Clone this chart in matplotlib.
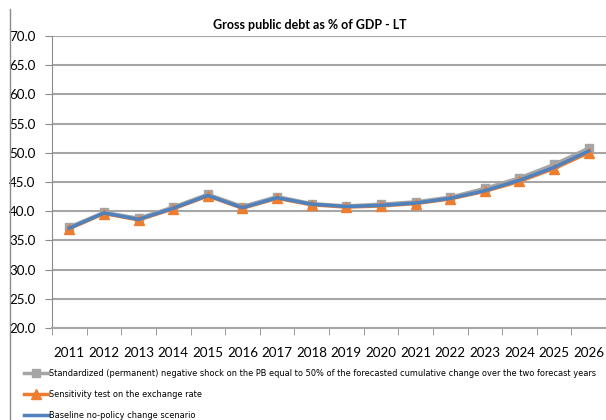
import matplotlib.pyplot as plt
from matplotlib.lines import Line2D
import numpy as np

# data
years = [str(y) for y in range(2011, 2027)]
baseline = [37.1, 39.7, 38.6, 40.5, 42.7, 40.6, 42.3, 41.2, 40.8, 41.0, 41.4, 42.2, 43.5, 45.3, 47.5, 50.3]
exch_rate = [37.0, 39.6, 38.5, 40.4, 42.6, 40.5, 42.2, 41.1, 40.7, 40.9, 41.3, 42.1, 43.4, 45.1, 47.3, 50.0]
pb_shock = [37.3, 39.8, 38.8, 40.7, 42.9, 40.8, 42.5, 41.3, 40.9, 41.2, 41.6, 42.4, 43.9, 45.7, 48.0, 50.8]
labels = ['Standardized (permanent) negative shock on the PB equal to 50% of the forecasted cumulative change over the two forecast years',
          'Sensitivity test on the exchange rate',
          'Baseline no-policy change scenario']

W, H = 606, 420
fig = plt.figure(figsize=(W / 100, H / 100), dpi=100)
ax = fig.add_axes([52 / W, 1 - 328 / H, (606 - 52) / W, (328 - 36) / H])

x = np.arange(len(years))
l1, = ax.plot(x, pb_shock, color='#A5A5A5', lw=2.5, marker='s', ms=6, zorder=3)
l2, = ax.plot(x, exch_rate, color='#ED7D31', lw=2.5, marker='^', ms=7, zorder=4)
l3, = ax.plot(x, baseline, color='#4F81BD', lw=2.5, zorder=5)

ax.set_ylim(20, 70)
ax.set_yticks(np.arange(20, 70.1, 5))
ax.set_yticklabels([f'{v:.1f}' for v in np.arange(20, 70.1, 5)])
ax.set_xlim(-0.5, 15.42)
ax.set_xticks(x)
ax.set_xticklabels(years)
ax.set_xticks(np.arange(-0.5, 15.6, 1), minor=True)
ax.tick_params(axis='x', which='major', length=0, pad=14)
ax.tick_params(axis='x', which='minor', length=5, color='#8C8C8C', direction='out')
ax.tick_params(axis='y', length=5, color='#8C8C8C', pad=7)
for lab in ax.get_xticklabels() + ax.get_yticklabels():
    lab.set_family(['Lato', 'DejaVu Sans'])
    lab.set_fontsize(9.6)
ax.grid(axis='y', color='#A6A6A6', lw=1.5)
ax.set_axisbelow(True)
for s in ['top', 'right']:
    ax.spines[s].set_visible(False)
ax.spines['left'].set_color('#8C8C8C')
ax.spines['bottom'].set_color('#A6A6A6')
ax.spines['bottom'].set_linewidth(1.5)

fig.text(310 / W, 1 - 25 / H, 'Gross public debt as % of GDP - LT', ha='center', va='center',
         fontsize=9, fontweight='bold', family=['Lato', 'DejaVu Sans'])

fig.legend([l1, l2, l3], labels, loc='upper left', bbox_to_anchor=(24 / W, 1 - 369 / H),
           frameon=False, handlelength=2.9, handletextpad=0.15, labelspacing=1.45,
           borderpad=0, borderaxespad=0,
           prop={'family': ['Liberation Sans Narrow', 'DejaVu Sans'], 'size': 5.98})

fig.add_artist(Line2D([10 / W, 10 / W], [0, 1 - 9 / H], color='#8C8C8C', lw=1))

fig.savefig('out.png', dpi=100)
